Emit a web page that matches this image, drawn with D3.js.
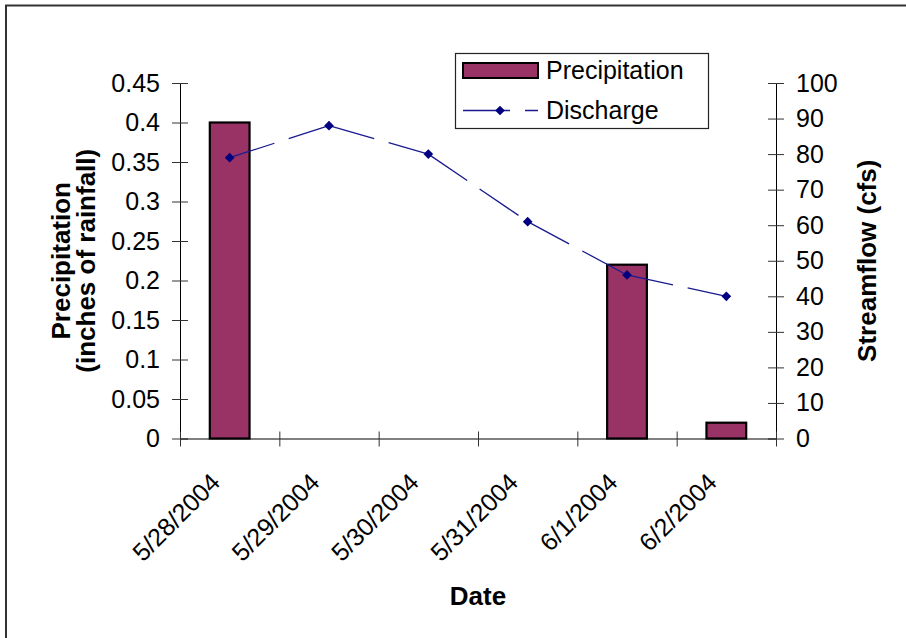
<!DOCTYPE html>
<html>
<head>
<meta charset="utf-8">
<script src="https://cdn.jsdelivr.net/npm/d3@7"></script>
<style>
  body { margin: 0; background: #fff; }
  svg { display: block; font-family: "Liberation Sans", Arial, sans-serif; }
</style>
</head>
<body>
<svg id="chart" width="906" height="638"></svg>
<script>
// data
const dates = ["5/28/2004", "5/29/2004", "5/30/2004", "5/31/2004", "6/1/2004", "6/2/2004"];
const precipitation = [0.4, 0, 0, 0, 0.22, 0.02];
const discharge = [79, 88, 80, 61, 46, 40];
const precipTicks = [0, 0.05, 0.1, 0.15, 0.2, 0.25, 0.3, 0.35, 0.4, 0.45];
const flowTicks = [0, 10, 20, 30, 40, 50, 60, 70, 80, 90, 100];

const plum = "#993366";
const navy = "#000080";

const plotLeft = 180, plotRight = 776, plotTop = 83, plotBottom = 438.5;

const svg = d3.select("#chart");

// chart area border (runs off the right and bottom edges)
svg.append("rect")
  .attr("x", 6).attr("y", 5.5)
  .attr("width", 1000).attr("height", 1000)
  .attr("fill", "none")
  .attr("stroke", "#333")
  .attr("stroke-width", 2);

const x = d3.scaleBand()
  .domain(dates)
  .range([plotLeft, plotRight])
  .paddingInner(0.6)
  .paddingOuter(0.3);

const xEdge = d3.scaleLinear().domain([0, dates.length]).range([plotLeft, plotRight]);
const yPrecip = d3.scaleLinear().domain([0, 0.45]).range([plotBottom, plotTop]);
const yFlow = d3.scaleLinear().domain([0, 100]).range([plotBottom, plotTop]);

const centre = d => x(d) + x.bandwidth() / 2;

// bars
svg.append("g")
  .selectAll("rect")
  .data(dates.map((d, i) => ({ date: d, value: precipitation[i] })).filter(d => d.value > 0))
  .join("rect")
    .attr("x", d => x(d.date))
    .attr("y", d => yPrecip(d.value))
    .attr("width", x.bandwidth())
    .attr("height", d => yPrecip(0) - yPrecip(d.value))
    .attr("fill", plum)
    .attr("stroke", "#000")
    .attr("stroke-width", 2.2);

// axes
const styleAxis = g => {
  g.select(".domain").attr("stroke", "#000");
  g.selectAll(".tick line").attr("stroke", "#333");
  g.selectAll(".tick text").attr("fill", "#000").attr("font-size", 25);
};

svg.append("g")
  .attr("transform", `translate(${plotLeft},0)`)
  .call(d3.axisLeft(yPrecip).tickValues(precipTicks).tickSize(8).tickSizeOuter(0).tickPadding(12).tickFormat(d => d))
  .call(g => g.selectAll(".tick line").attr("x1", 8))
  .call(styleAxis);

svg.append("g")
  .attr("transform", `translate(${plotRight},0)`)
  .call(d3.axisRight(yFlow).tickValues(flowTicks).tickSize(8).tickSizeOuter(0).tickPadding(12))
  .call(g => g.selectAll(".tick line").attr("x1", -8))
  .call(styleAxis);

svg.append("g")
  .attr("transform", `translate(0,${plotBottom})`)
  .call(d3.axisBottom(xEdge).tickValues(d3.range(dates.length + 1)).tickSize(8).tickSizeOuter(0).tickFormat(""))
  .call(g => g.selectAll(".tick line").attr("y1", -7))
  .call(styleAxis);

// rotated date labels
svg.append("g")
  .selectAll("text")
  .data(dates)
  .join("text")
    .attr("transform", d => `translate(${centre(d) - 8},484) rotate(-45)`)
    .attr("text-anchor", "end")
    .attr("font-size", 25)
    .text(d => d);

// discharge line, dash pattern restarts on every segment
const pts = dates.map((d, i) => [centre(d), yFlow(discharge[i])]);
svg.append("g")
  .selectAll("line")
  .data(d3.pairs(pts))
  .join("line")
    .attr("x1", d => d[0][0]).attr("y1", d => d[0][1])
    .attr("x2", d => d[1][0]).attr("y2", d => d[1][1])
    .attr("stroke", "#1a1a90")
    .attr("stroke-width", 1.3)
    .attr("stroke-dasharray", "47,15");

const diamond = d3.symbol().type(d3.symbolDiamond2).size(60);
svg.append("g")
  .selectAll("path")
  .data(pts)
  .join("path")
    .attr("transform", d => `translate(${d[0]},${d[1]})`)
    .attr("d", diamond)
    .attr("fill", navy);

// axis titles
svg.append("text")
  .attr("x", (plotLeft + plotRight) / 2).attr("y", 605)
  .attr("text-anchor", "middle")
  .attr("font-size", 26).attr("font-weight", "bold")
  .text("Date");

const yMid = (plotTop + plotBottom) / 2;
svg.append("text")
  .attr("transform", `translate(70,${yMid}) rotate(-90)`)
  .attr("text-anchor", "middle")
  .attr("font-size", 26).attr("font-weight", "bold")
  .text("Precipitation");
svg.append("text")
  .attr("transform", `translate(95,${yMid}) rotate(-90)`)
  .attr("text-anchor", "middle")
  .attr("font-size", 26).attr("font-weight", "bold")
  .text("(inches of rainfall)");
svg.append("text")
  .attr("transform", `translate(876,${yMid}) rotate(-90)`)
  .attr("text-anchor", "middle")
  .attr("font-size", 26).attr("font-weight", "bold")
  .text("Streamflow (cfs)");

// legend
const legend = svg.append("g");
legend.append("rect")
  .attr("x", 455.5).attr("y", 53.5)
  .attr("width", 253).attr("height", 75)
  .attr("fill", "#fff")
  .attr("stroke", "#222")
  .attr("stroke-width", 1.2);
legend.append("rect")
  .attr("x", 463).attr("y", 63)
  .attr("width", 75).attr("height", 15)
  .attr("fill", plum)
  .attr("stroke", "#000")
  .attr("stroke-width", 2);
legend.append("line")
  .attr("x1", 463).attr("x2", 538)
  .attr("y1", 110.5).attr("y2", 110.5)
  .attr("stroke", "#1a1a90")
  .attr("stroke-width", 1.3)
  .attr("stroke-dasharray", "47,15");
legend.append("path")
  .attr("transform", "translate(500,110.5)")
  .attr("d", diamond)
  .attr("fill", navy);
legend.selectAll("text.label")
  .data(["Precipitation", "Discharge"])
  .join("text")
    .attr("class", "label")
    .attr("x", 546)
    .attr("y", (d, i) => 79 + i * 39.5)
    .attr("font-size", 25)
    .text(d => d);
</script>
</body>
</html>
